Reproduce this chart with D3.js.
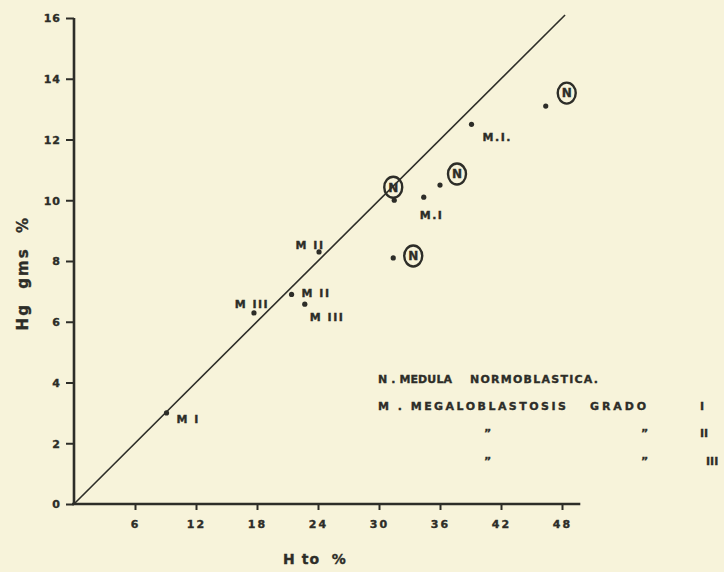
<!DOCTYPE html>
<html><head><meta charset="utf-8">
<script src="https://cdn.jsdelivr.net/npm/d3@7"></script>
<style>
html,body{margin:0;padding:0;background:#f7f3da;}
svg{display:block;}
text{font-family:"DejaVu Sans",sans-serif;font-weight:bold;fill:#2d2d28;stroke:#2d2d28;stroke-width:0.35px;}
</style></head><body>
<svg id="c" width="724" height="572"></svg>
<script>
// data
const hto    = [9.1, 17.7, 21.4, 22.7, 24.1, 31.4, 31.5, 34.4, 36.0, 39.1, 46.4];
const hg     = [3.0, 6.29, 6.9, 6.58, 8.3, 8.1, 10.0, 10.1, 10.5, 12.5, 13.1];
const marks  = ["M I","M III","M II","M III","M II","N","N","M.I","N","M.I.","N"];
const xTicks = [6, 12, 18, 24, 30, 36, 42, 48];
const yTicks = [0, 2, 4, 6, 8, 10, 12, 14, 16];
const lineEnd = [48.3, 16.1];   // Hg = Hto / 3 reference line
const legendRow1 = ["N . MEDULA", "NORMOBLASTICA."];
const legendRow2 = ["M . MEGALOBLASTOSIS", "GRADO", "I"];
const legendRow3 = ["\u201D", "\u201D", "II"];
const legendRow4 = ["\u201D", "\u201D", "III"];

// layout (label offsets in px, not data)
const labelOff = [[10,6,"start"],[-2,-9,"middle"],[10,-1,"start"],[5,13,"start"],[-9,-7,"middle"],
                  [20,-2,"c"],[-1,-13,"c"],[-4,18,"start"],[17,-11,"c"],[11,13,"start"],[21,-13,"c"]];

const ink = "#2d2d28";
const svg = d3.select("#c");
const x = d3.scaleLinear().domain([0,48]).range([74,562]);
const y = d3.scaleLinear().domain([0,16]).range([504,18]);

// y axis
const ya = svg.append("g").attr("transform","translate(74,0)")
  .call(d3.axisLeft(y).tickValues(yTicks).tickSize(8).tickPadding(5).tickSizeOuter(0));
ya.select(".domain").remove();
ya.selectAll(".tick line").attr("stroke",ink).attr("stroke-width",2);
ya.selectAll(".tick text").style("font-size","11px").attr("fill",ink).attr("dy","0.35em")
  .style("letter-spacing","1px");
svg.append("line").attr("x1",74).attr("x2",74).attr("y1",y(0)).attr("y2",y(16))
  .attr("stroke",ink).attr("stroke-width",2.6);

// x axis
const xa = svg.append("g").attr("transform","translate(0,"+y(0)+")")
  .call(d3.axisBottom(x).tickValues(xTicks).tickSize(6).tickPadding(10).tickSizeOuter(0));
xa.select(".domain").remove();
xa.selectAll(".tick line").attr("stroke",ink).attr("stroke-width",2);
xa.selectAll(".tick text").style("font-size","11px").attr("fill",ink).style("letter-spacing","2px");
svg.append("line").attr("x1",x(0)-2).attr("x2",x(49.8)).attr("y1",y(0)).attr("y2",y(0))
  .attr("stroke",ink).attr("stroke-width",2.6);

// axis titles
svg.append("text").attr("x",x(23.7)).attr("y",y(0)+60).attr("text-anchor","middle")
  .style("font-size","14px").style("letter-spacing","1px").attr("xml:space","preserve").text("H to  %");
svg.append("text").attr("transform","translate(28,"+y(7.6)+") rotate(-90)").attr("text-anchor","middle")
  .style("font-size","15px").style("letter-spacing","2px").attr("xml:space","preserve").text("Hg  gms  %");

// reference line
svg.append("line").attr("x1",x(0)).attr("y1",y(0)).attr("x2",x(lineEnd[0])).attr("y2",y(lineEnd[1]))
  .attr("stroke",ink).attr("stroke-width",1.6);

// points
const pts = hto.map((v,i)=>({x:v,y:hg[i],m:marks[i],o:labelOff[i]}));
svg.selectAll("circle.pt").data(pts).enter().append("circle").attr("class","pt")
  .attr("cx",d=>x(d.x)).attr("cy",d=>y(d.y)).attr("r",2.6).attr("fill",ink);

pts.forEach(d=>{
  const cx = x(d.x)+d.o[0], cy = y(d.y)+d.o[1];
  if (d.o[2]==="c") {
    svg.append("ellipse").attr("cx",cx).attr("cy",cy).attr("rx",9).attr("ry",10.5)
      .attr("fill","none").attr("stroke",ink).attr("stroke-width",2.4);
    svg.append("text").attr("x",cx).attr("y",cy).attr("dy","0.36em").attr("text-anchor","middle")
      .style("font-size","12px").text(d.m);
  } else {
    svg.append("text").attr("x",cx).attr("y",cy).attr("dy","0.36em").attr("text-anchor",d.o[2])
      .style("font-size","11px").style("letter-spacing","1.5px").text(d.m);
  }
});

// legend
const lg = svg.append("g").style("font-size","11px");
const put = (arr, xs, yy, lens) => arr.forEach((t,i)=>{
  const tx = lg.append("text").attr("x",xs[i]).attr("y",yy).attr("xml:space","preserve").text(t);
  if (lens && lens[i]) tx.attr("textLength",lens[i]).attr("lengthAdjust","spacing");
});
put(legendRow1,[378,470],383,[74,128]);
put(legendRow2,[378,590,700],410,[188,56,0]);
put(legendRow3,[484,641,700],437);
put(legendRow4,[484,641,706],465);
</script></body></html>
